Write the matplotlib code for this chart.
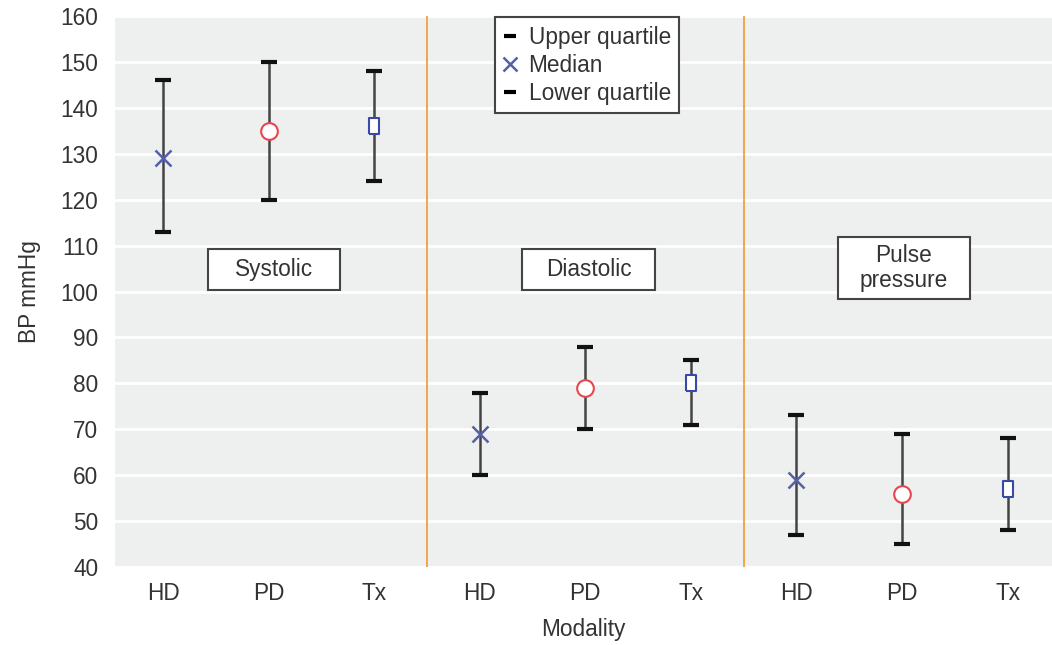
import matplotlib
matplotlib.use("Agg")
import matplotlib.pyplot as plt
from matplotlib.lines import Line2D
from matplotlib.patches import Rectangle

plt.rcParams['font.family'] = ['Liberation Sans', 'DejaVu Sans']

# data: one entry per group (Systolic, Diastolic, Pulse pressure)
modalities = ["HD", "PD", "Tx"]
groups = ["Systolic", "Diastolic", "Pulse\npressure"]
lower_q = [113, 120, 124, 60, 70, 71, 47, 45, 48]
median = [129, 135, 136, 69, 79, 80, 59, 56, 57]
upper_q = [146, 150, 148, 78, 88, 85, 73, 69, 68]

BG = "#eeefef"
DARK = "#333333"
BLUE_X = "#5560a8"
RED = "#e8454f"
BLUE_SQ = "#3a48a8"
ORANGE = "#f0a040"
FS = 16.3

fig = plt.figure(figsize=(10.52, 6.45), dpi=100)
ax = fig.add_axes([0.1093, 0.1209, 0.8907, 0.8543])
ax.set_facecolor(BG)
for s in ax.spines.values():
    s.set_visible(False)

x = list(range(len(median)))
labels = modalities * len(groups)

# grid
ax.set_ylim(40, 160)
ax.set_yticks(range(40, 161, 10))
ax.grid(axis="y", color="white", linewidth=2)
ax.set_axisbelow(True)
ax.set_xlim(-0.455, 8.42)
ax.set_xticks(x)
ax.set_xticklabels(labels)
ax.tick_params(length=0, labelsize=FS, colors=DARK)
ax.tick_params(axis="y", pad=12)
ax.tick_params(axis="x", pad=11)

# separators between groups
for i in range(1, len(groups)):
    ax.axvline(i * 3 - 0.5, color=ORANGE, linewidth=1.3, zorder=1)

# whiskers
yerr = [[m - lo for m, lo in zip(median, lower_q)],
        [hi - m for m, hi in zip(median, upper_q)]]
eb = ax.errorbar(x, median, yerr=yerr, fmt="none", ecolor="#444444",
                 elinewidth=1.8, capsize=6, capthick=3, zorder=2)
for cap in eb[1]:
    cap.set_markeredgecolor("#111111")

tall_sq = [(-0.6, -1), (0.6, -1), (0.6, 1), (-0.6, 1), (-0.6, -1)]
styles = {
    "HD": dict(marker="x", color=BLUE_X, ms=12, mew=1.8),
    "PD": dict(marker="o", mfc="white", mec=RED, ms=12, mew=1.5),
    "Tx": dict(marker=tall_sq, mfc="white", mec=BLUE_SQ, ms=12, mew=1.5),
}
for xi, lab, m in zip(x, labels, median):
    st = styles[lab]
    ax.plot([xi], [m], linestyle="none", zorder=3, **st)

# group label boxes (x0, x1, y0, y1 in data units)
boxes = [(0.426, 1.676, 100.4, 109.2),
         (3.40, 4.66, 100.4, 109.2),
         (6.39, 7.64, 98.3, 111.8)]
for (x0, x1, y0, y1), g in zip(boxes, groups):
    ax.add_patch(Rectangle((x0, y0), x1 - x0, y1 - y0, facecolor="white",
                           edgecolor="#444444", linewidth=1.5, zorder=4))
    ax.text((x0 + x1) / 2, (y0 + y1) / 2, g, ha="center", va="center",
            fontsize=FS, color=DARK, zorder=5, linespacing=1.1)

# legend
handles = [
    Line2D([], [], linestyle="none", marker="_", color="black", ms=8, mew=3),
    Line2D([], [], linestyle="none", marker="x", color=BLUE_X, ms=10, mew=1.8),
    Line2D([], [], linestyle="none", marker="_", color="black", ms=8, mew=3),
]
leg = ax.legend(handles, ["Upper quartile", "Median", "Lower quartile"],
                loc="upper left", bbox_to_anchor=(0.4056, 0.998),
                borderaxespad=0, fontsize=FS, handlelength=0.6,
                handletextpad=0.5, labelspacing=0.22, borderpad=0.38,
                fancybox=False, framealpha=1, edgecolor="#444444")
leg.get_frame().set_linewidth(1.5)
for t in leg.get_texts():
    t.set_color(DARK)

ax.set_xlabel("Modality", fontsize=FS, color=DARK, labelpad=9)
ax.set_ylabel("BP mmHg", fontsize=FS, color=DARK, labelpad=14)

fig.savefig("out.png", dpi=100, facecolor="white")
